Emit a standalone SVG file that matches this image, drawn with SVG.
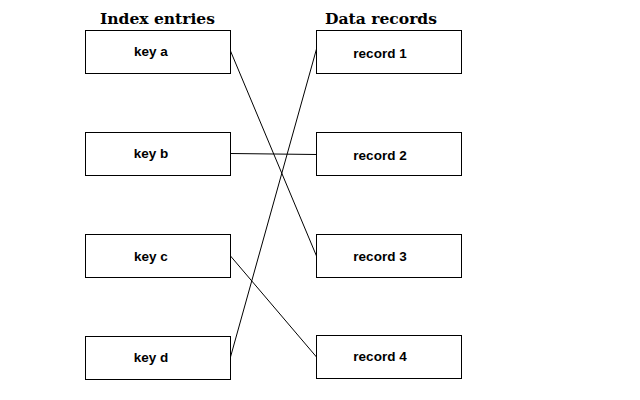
<svg xmlns="http://www.w3.org/2000/svg" width="640" height="400" viewBox="0 0 640 400">
<style>
.box{fill:#fff;stroke:#000;stroke-width:1}
.lbl{font-family:"Liberation Sans",Arial,sans-serif;font-weight:bold;font-size:13.5px;text-anchor:middle;fill:#000}
.ttl{font-family:"DejaVu Serif","Liberation Serif",serif;font-weight:bold;font-size:15px;fill:#000}
.con{stroke:#000;stroke-width:1;fill:none}
</style>
<rect width="640" height="400" fill="#fff"/>
<text class="ttl" x="100" y="24" textLength="115" lengthAdjust="spacingAndGlyphs">Index entries</text>
<text class="ttl" x="325" y="24" textLength="112" lengthAdjust="spacingAndGlyphs">Data records</text>
<g id="connectors">
<line class="con" x1="230.5" y1="51" x2="316.5" y2="256"/>
<line class="con" x1="230.5" y1="153.5" x2="316.5" y2="154.5"/>
<line class="con" x1="230.5" y1="256" x2="316.5" y2="357"/>
<line class="con" x1="230.5" y1="357" x2="316.5" y2="49"/>
</g>
<g id="key-a"><rect class="box" x="85.5" y="30.5" width="145" height="43"/><text class="lbl" x="151" y="56">key a</text></g>
<g id="key-b"><rect class="box" x="85.5" y="132.5" width="145" height="43"/><text class="lbl" x="151" y="158">key b</text></g>
<g id="key-c"><rect class="box" x="85.5" y="234.5" width="145" height="43"/><text class="lbl" x="151" y="261">key c</text></g>
<g id="key-d"><rect class="box" x="85.5" y="336.5" width="145" height="43"/><text class="lbl" x="151" y="362">key d</text></g>
<g id="record-1"><rect class="box" x="316.5" y="30.5" width="145" height="43"/><text class="lbl" x="380" y="58">record 1</text></g>
<g id="record-2"><rect class="box" x="316.5" y="132.5" width="145" height="43"/><text class="lbl" x="380" y="160">record 2</text></g>
<g id="record-3"><rect class="box" x="316.5" y="234.5" width="145" height="43"/><text class="lbl" x="380" y="261">record 3</text></g>
<g id="record-4"><rect class="box" x="316.5" y="335.5" width="145" height="43"/><text class="lbl" x="380" y="361">record 4</text></g>
</svg>
